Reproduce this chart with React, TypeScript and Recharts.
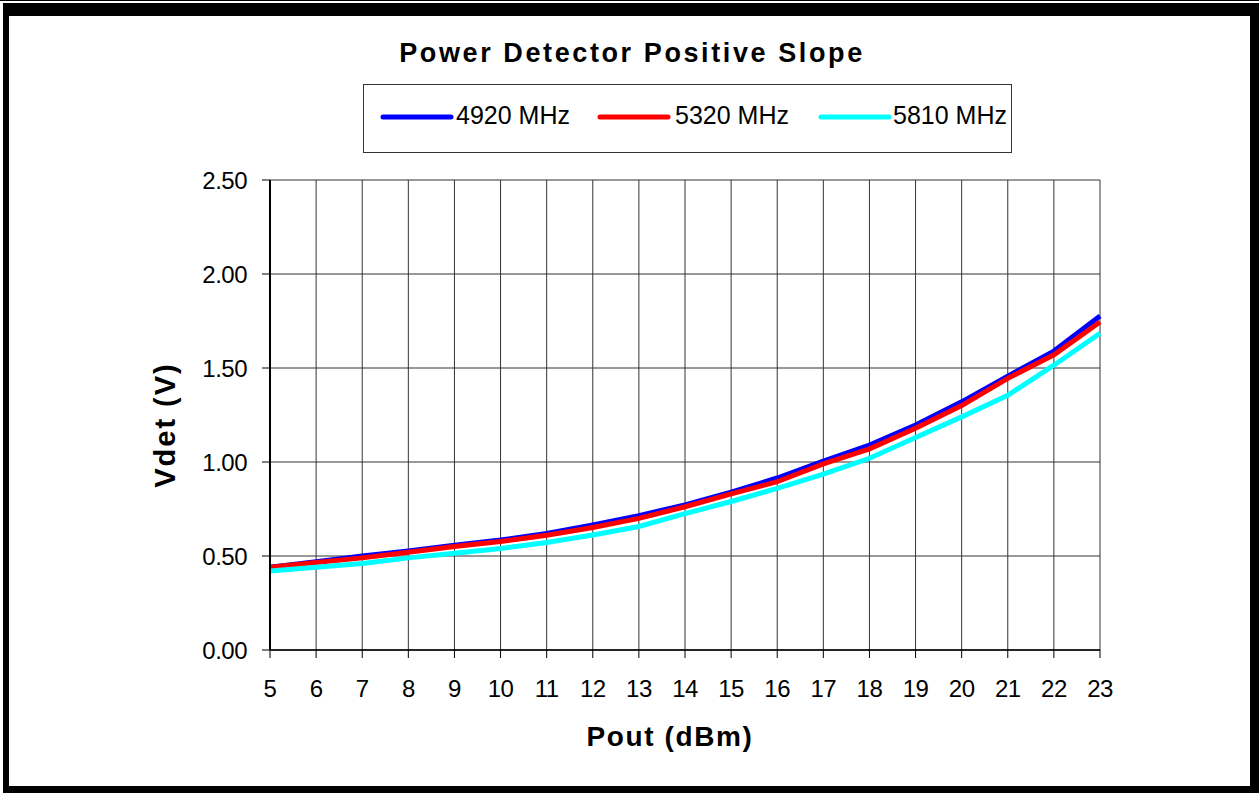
import React from 'react';
import { LineChart, Line, XAxis, YAxis, CartesianGrid, Legend } from 'recharts';

// Pout (dBm) sweep
const pout = [5, 6, 7, 8, 9, 10, 11, 12, 13, 14, 15, 16, 17, 18, 19, 20, 21, 22, 23];

// Vdet (V)
const vdet4920 = [0.44, 0.47, 0.5, 0.527, 0.557, 0.585, 0.62, 0.665, 0.715, 0.772, 0.84, 0.915, 1.005, 1.09, 1.197, 1.32, 1.457, 1.59, 1.776];
const vdet5320 = [0.44, 0.465, 0.49, 0.52, 0.55, 0.577, 0.61, 0.652, 0.7, 0.762, 0.83, 0.895, 0.99, 1.07, 1.18, 1.3, 1.445, 1.57, 1.745];
const vdet5810 = [0.42, 0.44, 0.46, 0.49, 0.515, 0.54, 0.572, 0.612, 0.657, 0.725, 0.79, 0.86, 0.935, 1.02, 1.13, 1.24, 1.355, 1.515, 1.685];

const yTicks = [0, 0.5, 1, 1.5, 2, 2.5];

const series = [
  { key: 'f4920', name: '4920 MHz', color: '#0000ff' },
  { key: 'f5320', name: '5320 MHz', color: '#ff0000' },
  { key: 'f5810', name: '5810 MHz', color: '#00ffff' },
];

const data = pout.map((p, i) => ({
  p,
  f4920: vdet4920[i],
  f5320: vdet5320[i],
  f5810: vdet5810[i],
}));

const FONT = '"Liberation Sans", Arial, sans-serif';

const LegendBox = () => {
  // line start x, text start x, relative to the legend box
  const slots = [
    { lx: 19, tx: 92 },
    { lx: 236, tx: 311 },
    { lx: 457, tx: 529 },
  ];
  return (
    <svg width={649} height={69} style={{ display: 'block', border: '1px solid #333', background: '#fff', boxSizing: 'border-box' }}>
      {series.map((s, i) => (
        <g key={s.key}>
          <line x1={slots[i].lx} x2={slots[i].lx + 68} y1={32} y2={32} stroke={s.color} strokeWidth={5} strokeLinecap="round" />
          <text x={slots[i].tx} y={39} fontFamily={FONT} fontSize={25} fill="#000">
            {s.name}
          </text>
        </g>
      ))}
    </svg>
  );
};

const App: React.FC = () => {
  return (
    <div style={{ position: 'absolute', left: 0, top: 0, width: 1259, height: 793, background: '#fff', overflow: 'hidden' }}>
      {/* outer frame */}
      <div style={{ position: 'absolute', left: 0, top: 0, width: 1259, height: 1, background: '#000' }} />
      <div
        style={{
          position: 'absolute',
          left: 3,
          top: 3,
          width: 1256,
          height: 790,
          boxSizing: 'border-box',
          borderStyle: 'solid',
          borderColor: '#000',
          borderWidth: '13px 9px 7px 6px',
        }}
      />

      <div style={{ position: 'absolute', left: 0, top: 0 }}>
        <LineChart width={1259} height={793} data={data} margin={{ top: 180, right: 159, bottom: 113, left: 210 }}>
          <CartesianGrid stroke="#333" strokeWidth={1} />
          <XAxis
            dataKey="p"
            type="number"
            domain={[5, 23]}
            ticks={pout}
            interval={0}
            height={30}
            axisLine={{ stroke: '#000', strokeWidth: 1.5 }}
            tickLine={{ stroke: '#000' }}
            tickSize={8}
            tickMargin={22}
            tick={{ fill: '#000', fontSize: 24, fontFamily: FONT, letterSpacing: -0.5 }}
          />
          <YAxis
            type="number"
            domain={[0, 2.5]}
            ticks={yTicks}
            interval={0}
            width={60}
            axisLine={{ stroke: '#000', strokeWidth: 2 }}
            tickLine={{ stroke: '#000' }}
            tickSize={8}
            tickMargin={15}
            tickFormatter={(v: number) => v.toFixed(2)}
            tick={{ fill: '#000', fontSize: 24, fontFamily: FONT, letterSpacing: -0.5 }}
          />
          <Legend
            layout="vertical"
            align="center"
            verticalAlign="middle"
            wrapperStyle={{ left: 363, top: 84, width: 649, height: 69 }}
            content={() => <LegendBox />}
          />
          {series.map((s) => (
            <Line
              key={s.key}
              type="linear"
              dataKey={s.key}
              name={s.name}
              stroke={s.color}
              strokeWidth={5}
              dot={false}
              activeDot={false}
              isAnimationActive={false}
            />
          ))}
        </LineChart>
      </div>

      {/* title and axis titles */}
      <svg width={1259} height={793} style={{ position: 'absolute', left: 0, top: 0, pointerEvents: 'none' }}>
        <text x={632} y={62} textAnchor="middle" fontFamily={FONT} fontWeight="bold" fontSize={27} letterSpacing={2.6} fill="#000">
          Power Detector Positive Slope
        </text>
        <text x={670} y={746} textAnchor="middle" fontFamily={FONT} fontWeight="bold" fontSize={28} letterSpacing={1.6} fill="#000">
          Pout (dBm)
        </text>
        <text
          transform="translate(175, 425) rotate(-90)"
          textAnchor="middle"
          fontFamily={FONT}
          fontWeight="bold"
          fontSize={29}
          letterSpacing={2}
          fill="#000"
        >
          Vdet (V)
        </text>
      </svg>
    </div>
  );
};

export default App;
